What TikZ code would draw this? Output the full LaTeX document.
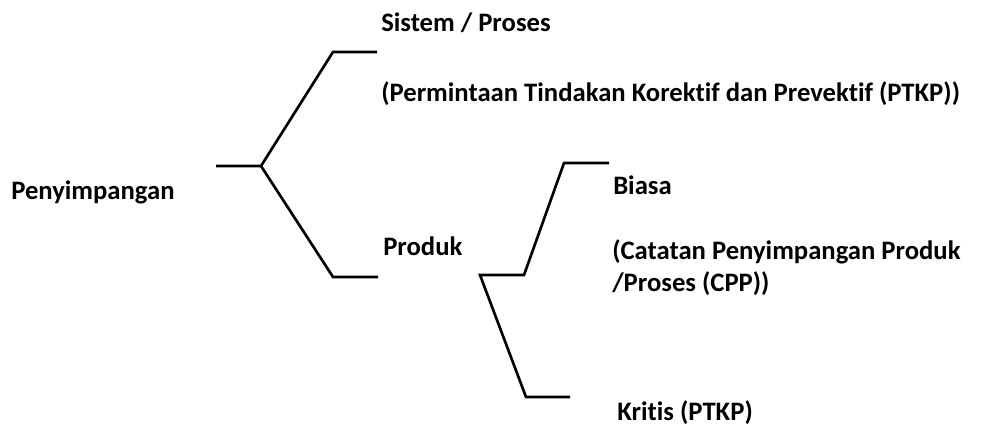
\documentclass[tikz,border=0pt]{standalone}
\usepackage{fontspec}
\setmainfont[Ligatures={NoCommon}]{Carlito}
\begin{document}
\begin{tikzpicture}[x=0.75pt,y=-0.75pt,
  lbl/.style={anchor=base west,inner sep=0pt,font=\bfseries\fontsize{20}{24}\selectfont},
  brk/.style={line width=2pt,line join=miter,black}]
\useasboundingbox (0,0) rectangle (992,427);
% labels
\node[lbl] (pen) at (11,200) {Penyimpangan};
\node[lbl] (sis) at (381,32) {Sistem / Proses};
\node[lbl] (ptkp) at (381,102) {(Permintaan Tindakan Korektif dan Prevektif (PTKP))};
\node[lbl] (pro) at (383,256) {Produk};
\node[lbl] (bia) at (613,195) {Biasa};
\node[lbl] (cpp1) at (612,260) {(Catatan Penyimpangan Produk};
\node[lbl] (cpp2) at (612,292) {/Proses (CPP))};
\node[lbl] (kri) at (617,421) {Kritis (PTKP)};
% bracket 1
\coordinate (a0) at (216,166);
\coordinate (a1) at (261,166);
\coordinate (a2) at (333,52);
\coordinate (a3) at (377,52);
\coordinate (a4) at (333,277);
\coordinate (a5) at (378,277);
\draw[brk] (a0) -- (a1) -- (a2) -- (a3);
\draw[brk] (a1) -- (a4) -- (a5);
% bracket 2
\coordinate (b0) at (480,275);
\coordinate (b1) at (524,275);
\coordinate (b2) at (564,163);
\coordinate (b3) at (609,163);
\coordinate (b4) at (526,397);
\coordinate (b5) at (570,397);
\draw[brk] (b3) -- (b2) -- (b1) -- (b0) -- (b4) -- (b5);
\end{tikzpicture}
\end{document}
